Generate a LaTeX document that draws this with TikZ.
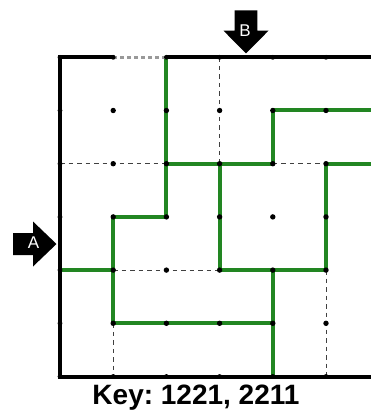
\documentclass[tikz,border=0pt]{standalone}
\usepackage{fontspec}
\setmainfont{Liberation Sans}
\begin{document}
\begin{tikzpicture}[x=1pt,y=-1pt,
  wall/.style={line width=4pt,black},
  gate/.style={line width=3pt,gray!80,dash pattern=on 4pt off 3pt},
  pathg/.style={line width=4pt,draw={rgb,255:red,34;green,134;blue,34},line cap=round,line join=round},
  guide/.style={line width=0.9pt,black!75,dash pattern=on 4.5pt off 4pt},
  blockarrow/.style={fill=black},
  arrlabel/.style={text=white,font=\fontsize{17}{17}\selectfont,inner sep=0pt}]
\useasboundingbox (0,0) rectangle (371,414);
\clip (0,0) rectangle (371,414);
% grid coordinates
\foreach \i in {0,...,6}{
  \foreach \j in {0,...,6}{
    \coordinate (p\i\j) at ({60+53.2*\i},{57.3+53.2*\j});
  }
}
% dashed guide lines
\draw[guide] (p02) -- (p12) -- (p22);
\draw[guide] (p30) -- (p31) -- (p32);
\draw[guide] (p42) -- (p52);
\draw[guide] (p14) -- (p24) -- (p34);
\draw[guide] (p15) -- (p16);
\draw[guide] (p54) -- (p55) -- (p56);
% green path segments
\draw[pathg] (p20) -- (p21) -- (p22) -- (p23) -- (p13) -- (p14) -- (p15) -- (p25) -- (p35) -- (p45) -- (p46);
\draw[pathg] (p22) -- (p32) -- (p42) -- (p41) -- (p51) -- (p61);
\draw[pathg] (p32) -- (p33) -- (p34) -- (p44) -- (p54) -- (p53) -- (p52) -- (p62);
\draw[pathg] (p04) -- (p14);
\draw[pathg] (p44) -- (p45);
% walls
\draw[wall,line cap=round] (p10) -- (p00) -- (p06) -- (p66);
\draw[wall] (p20) -- (p60);
\draw[gate] (p10) -- (p20);
% dots
\foreach \i in {1,...,6}{
  \foreach \j in {1,...,5}{
    \fill (p\i\j) circle (2.7pt);
  }
}
\foreach \i in {0,...,6}{
  \fill (p\i0) circle (2.4pt);
  \fill (p\i6) circle (2.4pt);
}
\foreach \j in {1,...,5}{
  \fill (p0\j) circle (2.4pt);
}
% entry arrows
\fill[blockarrow] (13,233) -- (33,233) -- (33,221.5) -- (56.5,244) -- (33,266.5) -- (33,255) -- (13,255) -- cycle;
\node[arrlabel] (la) at (33.5,243) {A};
\fill[blockarrow] (234.6,10.5) -- (257.4,10.5) -- (257.4,30.7) -- (268.5,30.7) -- (246,53.5) -- (223.5,30.7) -- (234.6,30.7) -- cycle;
\node[arrlabel] (lb) at (245,30.5) {B};
% key
\node[font=\bfseries\fontsize{28}{28}\selectfont\frenchspacing,anchor=base,inner sep=0pt] (key) at (196,404) {Key: 1221, 2211};
\end{tikzpicture}
\end{document}
